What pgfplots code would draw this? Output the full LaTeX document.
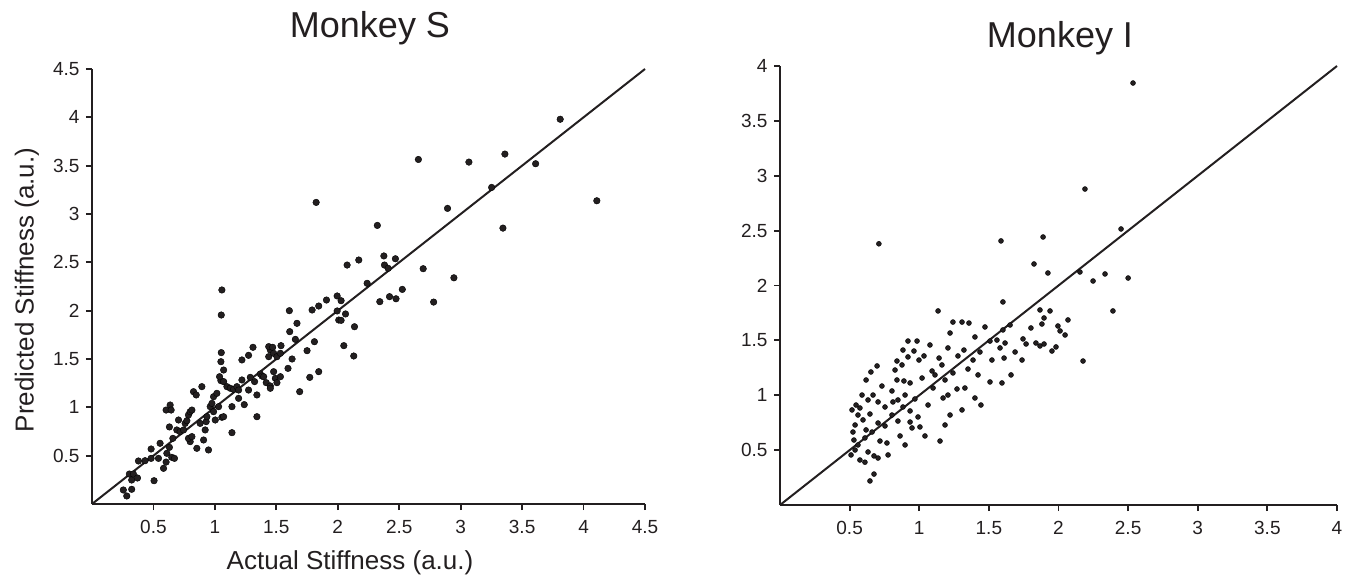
\documentclass[border=0pt]{standalone}
\usepackage{pgfplots}
\pgfplotsset{compat=1.18}
\usepackage{fontspec}
\setmainfont{Liberation Sans}
\definecolor{ink}{HTML}{231F20}
\pgfplotsset{
  sc/.style={
    scale only axis,
    axis lines*=left,
    axis line style={line width=2.2pt, color=ink, -},
    tick align=outside,
    major tick length=6pt,
    every tick/.style={line width=1.8pt, color=ink},
    tick label style={font=\fontsize{19}{22}\selectfont, color=ink},
    xticklabel style={yshift=-7pt},
    yticklabel style={xshift=-3pt},
    clip=false,
  }
}
\begin{document}
\begin{tikzpicture}
\useasboundingbox (0,0) rectangle (1354pt,581pt);
\begin{axis}[sc, at={(92pt,77pt)}, anchor=south west, width=553pt, height=435pt,
  xmin=0, xmax=4.5, ymin=0, ymax=4.5,
  xtick={0.5,1,1.5,2,2.5,3,3.5,4,4.5}, xticklabels={0.5,1,1.5,2,2.5,3,3.5,4,4.5},
  ytick={0.5,1,1.5,2,2.5,3,3.5,4,4.5}, yticklabels={0.5,1,1.5,2,2.5,3,3.5,4,4.5}]
\addplot[ink, line width=2pt, no marks] coordinates {(0,0) (4.5,4.5)};
\addplot[only marks, mark=*, mark size=3.3pt, mark options={fill=ink, draw=none}] table {
x y
0.255 0.145
0.283 0.083
0.323 0.152
0.323 0.248
0.304 0.310
0.337 0.310
0.370 0.269
0.378 0.445
0.432 0.448
0.481 0.569
0.481 0.472
0.505 0.241
0.541 0.472
0.554 0.628
0.582 0.369
0.603 0.434
0.609 0.524
0.630 0.586
0.649 0.483
0.671 0.472
0.603 0.972
0.636 1.024
0.644 0.972
0.658 0.679
0.630 0.797
0.690 0.766
0.704 0.869
0.717 0.748
0.745 0.766
0.758 0.834
0.772 0.862
0.785 0.921
0.799 0.955
0.813 0.972
0.799 0.645
0.785 0.679
0.813 0.697
0.853 0.576
0.908 0.662
0.948 0.559
0.826 1.162
0.848 1.128
0.894 1.214
0.880 0.834
0.921 0.766
0.929 0.852
0.935 0.903
0.962 1.007
0.976 1.041
0.989 1.110
0.989 0.955
1.003 0.869
1.057 0.897
1.071 0.903
1.030 1.007
1.016 1.145
1.049 1.276
1.038 1.317
1.049 1.472
1.052 1.566
1.071 1.386
1.052 1.955
1.057 2.214
1.071 1.266
1.098 1.214
1.125 1.197
1.139 1.007
1.152 1.186
1.179 1.214
1.193 1.179
1.193 1.093
1.139 0.738
1.220 1.283
1.239 1.028
1.220 1.490
1.274 1.538
1.310 1.621
1.274 1.179
1.323 1.266
1.342 1.128
1.342 0.903
1.288 1.310
1.370 1.345
1.383 1.324
1.397 1.317
1.418 1.255
1.438 1.524
1.451 1.593
1.438 1.628
1.470 1.621
1.478 1.559
1.478 1.369
1.492 1.300
1.451 1.221
1.451 1.197
1.505 1.524
1.533 1.559
1.538 1.638
1.533 1.317
1.505 1.255
1.595 1.403
1.628 1.500
1.609 1.783
1.606 2.000
1.655 1.703
1.668 1.869
1.690 1.162
1.750 1.586
1.772 1.310
1.810 1.679
1.791 2.007
1.845 2.048
1.845 1.369
1.908 2.110
1.995 1.997
1.995 2.152
2.008 1.903
2.027 2.103
2.027 1.900
2.063 1.966
2.049 1.638
2.130 1.531
2.136 1.834
2.076 2.472
2.171 2.524
2.239 2.283
2.342 2.093
2.375 2.566
2.380 2.472
2.410 2.438
2.421 2.145
1.824 3.120
2.656 3.564
3.067 3.537
3.360 3.620
3.610 3.520
3.810 3.980
4.108 3.137
3.252 3.275
3.344 2.854
2.893 3.058
2.322 2.882
2.469 2.537
2.695 2.434
2.945 2.340
2.474 2.123
2.525 2.220
2.780 2.089
};
\end{axis}
\begin{axis}[sc, at={(780pt,76pt)}, anchor=south west, width=557pt, height=439pt,
  xmin=0, xmax=4, ymin=0, ymax=4,
  xtick={0.5,1,1.5,2,2.5,3,3.5,4}, xticklabels={0.5,1,1.5,2,2.5,3,3.5,4},
  ytick={0.5,1,1.5,2,2.5,3,3.5,4}, yticklabels={0.5,1,1.5,2,2.5,3,3.5,4}]
\addplot[ink, line width=2pt, no marks] coordinates {(0,0) (4,4)};
\addplot[only marks, mark=*, mark size=2.5pt, mark options={fill=ink, draw=none}] table {
x y
2.535 3.845
2.190 2.879
2.449 2.515
1.889 2.442
1.587 2.406
0.710 2.380
1.824 2.196
1.924 2.114
2.154 2.123
2.334 2.105
2.500 2.068
2.248 2.041
2.391 1.768
1.601 1.850
1.867 1.777
1.881 1.649
1.896 1.704
1.996 1.631
2.176 1.312
1.135 1.768
1.242 1.667
1.307 1.667
1.357 1.658
1.802 1.613
1.652 1.640
1.745 1.513
1.838 1.476
1.867 1.449
1.896 1.467
1.767 1.467
1.601 1.595
1.558 1.503
1.508 1.494
1.472 1.622
1.609 1.339
1.659 1.185
1.594 1.112
1.508 1.121
1.422 1.185
1.350 1.239
1.321 1.412
1.278 1.358
1.206 1.431
1.142 1.339
1.092 1.221
1.099 1.066
1.206 1.002
1.271 1.057
1.443 0.911
1.400 0.975
1.307 0.866
1.221 0.820
1.185 0.729
1.149 0.583
1.041 0.629
0.934 0.857
0.969 0.966
0.898 1.002
0.890 1.130
0.804 1.039
0.840 1.139
0.732 1.084
0.826 1.230
0.876 1.276
0.998 1.321
1.034 1.358
1.077 1.458
0.962 1.403
0.984 1.494
0.919 1.494
0.883 1.412
0.840 1.312
0.697 1.267
0.653 1.212
0.618 1.139
0.668 1.002
0.632 0.957
0.704 0.939
0.754 0.893
0.804 0.820
0.847 0.765
0.934 0.756
0.754 0.720
0.704 0.747
0.589 1.002
0.546 0.911
0.560 0.820
0.596 0.775
0.646 0.829
0.539 0.729
0.524 0.665
0.531 0.592
0.560 0.547
0.610 0.611
0.661 0.665
0.718 0.583
0.632 0.483
0.574 0.410
0.510 0.456
0.539 0.501
0.646 0.219
0.675 0.282
0.610 0.390
0.704 0.428
0.675 0.447
0.768 0.565
0.862 0.629
0.898 0.547
1.005 0.711
0.517 0.866
0.574 0.884
0.618 0.684
0.776 0.456
0.811 0.939
0.847 0.957
0.934 1.112
1.020 1.157
1.113 1.185
1.185 1.139
1.242 1.203
1.328 1.066
1.386 1.321
1.436 1.394
1.522 1.321
1.688 1.394
1.738 1.321
1.953 1.403
1.982 1.440
2.011 1.586
2.047 1.549
2.068 1.686
1.616 1.476
1.939 1.768
1.171 0.975
1.063 0.911
0.991 0.802
0.948 0.702
0.883 0.893
0.919 1.349
1.163 1.276
1.221 1.567
1.400 1.531
1.580 1.431
};
\end{axis}
\node[color=ink, font=\fontsize{36}{40}\selectfont] at (370pt,553pt) {Monkey S};
\node[color=ink, font=\fontsize{36}{40}\selectfont] at (1060pt,543pt) {Monkey I};
\node[color=ink, font=\fontsize{26}{30}\selectfont] at (350pt,18pt) {Actual Stiffness (a.u.)};
\node[color=ink, font=\fontsize{26}{30}\selectfont, rotate=90] at (27pt,291pt) {Predicted Stiffness (a.u.)};
\end{tikzpicture}
\end{document}
